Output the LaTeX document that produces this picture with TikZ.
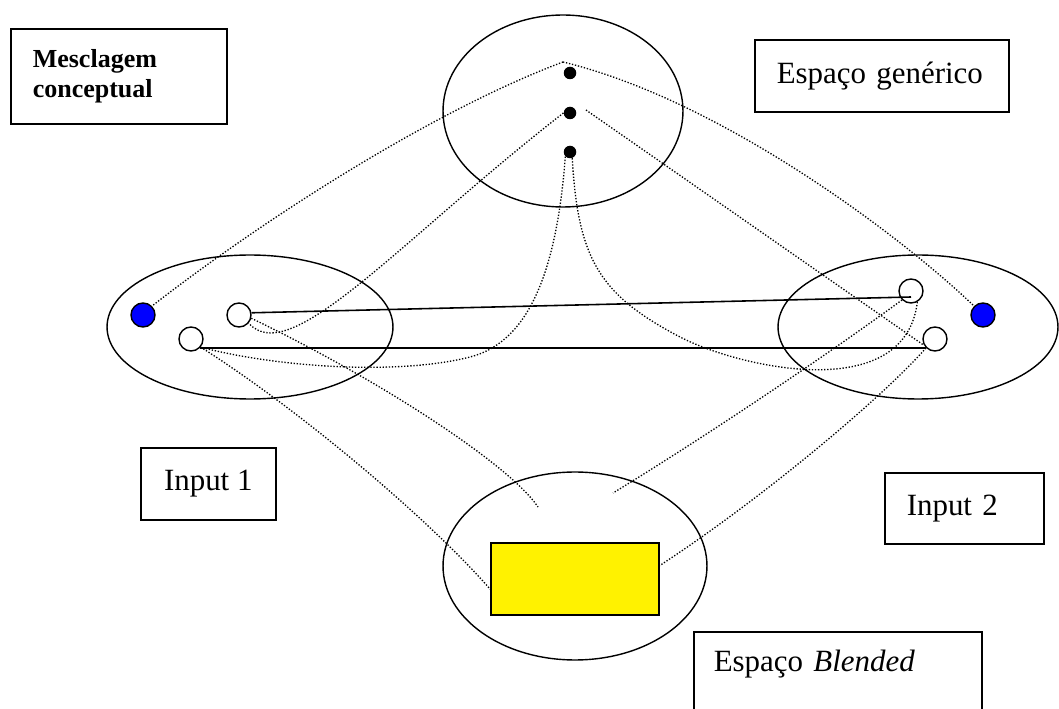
\documentclass[tikz,border=0pt]{standalone}
\usepackage{fontspec}
\setmainfont{Liberation Serif}
\usetikzlibrary{shapes.geometric, positioning}

\begin{document}
\begin{tikzpicture}[x=0.02cm, y=-0.02cm]
    \tikzset{
      space/.style={ellipse, draw, line width=0.8pt, inner sep=0pt},
      element/.style={circle, draw, fill=white, line width=0.8pt,
        minimum size=0.48cm, inner sep=0pt},
      dotel/.style={circle, fill=black, minimum size=0.25cm, inner sep=0pt},
      label box/.style={rectangle, draw, line width=0.9pt, anchor=north west,
        inner sep=0pt, inner xsep=0.44cm, align=left,
        font=\fontsize{17.6pt}{21pt}\selectfont},
      link/.style={line width=0.75pt, dash pattern=on 0.75pt off 1pt},
      match/.style={line width=0.9pt}
    }
    \useasboundingbox (0,0) rectangle (1059,709);
    \clip (0,0) rectangle (1059,709);

    % the four mental spaces
    \node[space, minimum width=4.8cm, minimum height=3.84cm] (generic) at (563,111) {};
    \node[space, minimum width=5.72cm, minimum height=2.88cm] (in1) at (250,327) {};
    \node[space, minimum width=5.6cm, minimum height=2.88cm] (in2) at (918,327) {};
    \node[space, minimum width=5.28cm, minimum height=3.76cm] (blend) at (575,566) {};
    \node[rectangle, draw, fill=yellow, line width=0.8pt,
      minimum width=3.36cm, minimum height=1.44cm] (blendbox) at (575,579) {};

    \node[dotel] (d1) at (570,73) {};
    \node[dotel] (d2) at (570,113) {};
    \node[dotel] (d3) at (570,152) {};

    \node[element, fill=blue] (b1) at (143,315) {};
    \node[element] (a1) at (239,315) {};
    \node[element] (a2) at (191,339) {};
    \node[element] (c1) at (911,291) {};
    \node[element] (c2) at (935,339) {};
    \node[element, fill=blue] (b2) at (983,315) {};

    \coordinate (apex) at (563,62);
    \coordinate (d2r) at (586,110);
    \coordinate (bin1) at (538,507);
    \coordinate (bin2) at (613,493);

    % projections
    \draw[link] (apex) .. controls (430,112) and (260,222) .. (b1.45);
    \draw[link] (apex) .. controls (720,100) and (900,235) .. (b2.135);
    \draw[link] (d2.west) .. controls (400,240) and (290,370) .. (a1.-40);
    \draw[link] (d2r) -- (c2.210);
    \draw[link] (d3.225) .. controls (556,280) and (525,343) .. (470,357)
      .. controls (400,375) and (280,368) .. (a2.-40);
    \draw[link] (d3.290) .. controls (578,260) and (600,295) .. (680,337)
      .. controls (740,368) and (905,405) .. (c1.-60);
    \draw[link] (a1.-15) .. controls (380,380) and (510,465) .. (bin1);
    \draw[link] (a2.-40) .. controls (300,410) and (430,520) .. (blendbox.187);
    \draw[link] (c1.225) .. controls (820,360) and (700,440) .. (bin2);
    \draw[link] (c2.225) .. controls (880,400) and (760,500) .. (blendbox.9);

    % cross-space mapping
    \draw[match] (a1.10) -- ([yshift=-0.12cm]c1.center);
    \draw[match] (a2.-45) -- (c2.225);

    \node[label box, font=\bfseries\fontsize{14.8pt}{17pt}\selectfont,
      text width=3.44cm, minimum height=1.9cm] (title) at (10,28) {Mesclagem\\conceptual};
    \node[label box, text width=4.2cm, minimum height=1.44cm] (genlabel) at (754,39) {Espaço genérico};
    \node[label box, minimum width=2.7cm, minimum height=1.44cm] (in1label) at (140,447) {Input 1};
    \node[label box, text width=2.3cm, minimum height=1.42cm] (in2label) at (884,472) {Input 2};
    \node[label box, inner xsep=0.4cm, text width=4.96cm, text height=0.8cm,
      text depth=1.18cm] (blendlabel) at (693,631) {Espaço \textit{Blended}};
\end{tikzpicture}
\end{document}
